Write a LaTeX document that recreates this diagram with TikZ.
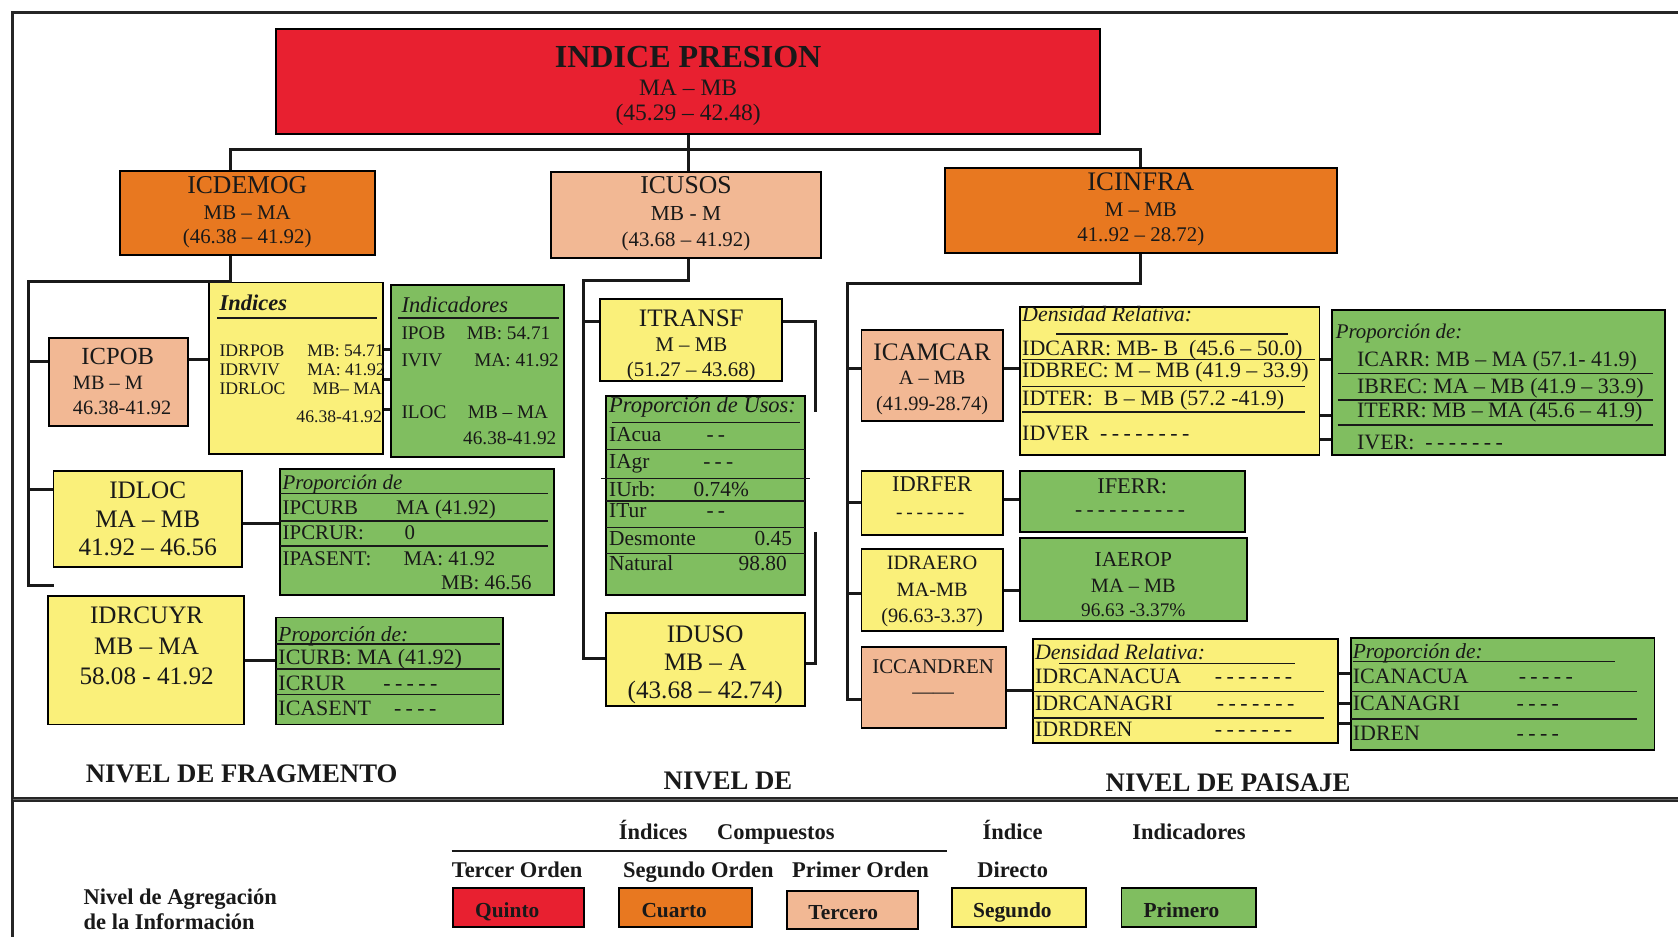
\documentclass[tikz,border=0pt]{standalone}
\usepackage{fontspec}
\setmainfont{Liberation Serif}
\usetikzlibrary{fit}

\definecolor{cRed}{RGB}{232,32,48}
\definecolor{cOrange}{RGB}{232,120,32}
\definecolor{cSalmon}{RGB}{242,184,148}
\definecolor{cYellow}{RGB}{250,240,122}
\definecolor{cGreen}{RGB}{128,190,96}

\newcommand\tam[1]{\fontsize{#1pt}{#1pt}\selectfont}
\newcount\gcnt
% a run of separate hyphens, used for "no data" entries
\newcommand\guiones[1]{\gcnt=#1\relax\loop\ifnum\gcnt>0 -\kern0.2em\advance\gcnt by -1\relax\repeat}

\tikzset{
  caja/.style={draw=black, line width=1.8pt, inner sep=0pt},
  conn/.style={draw=black!90, line width=2.8pt},
  sep/.style={draw=black!90, line width=1.4pt},
  tx/.style={anchor=base, inner sep=0pt, text=black!90},
  tw/.style={anchor=base west, inner sep=0pt, text=black!90},
  te/.style={anchor=base east, inner sep=0pt, text=black!90},
  marco/.style={draw=black!85, line width=3pt},
}

\begin{document}
\begin{tikzpicture}[x=1pt,y=-1pt]
\useasboundingbox (0,0) rectangle (1568,876);
\fill[white] (0,0) rectangle (1568,876);

% ---------- frame ----------
\draw[marco] (1568,12) -- (12,12) -- (12,876);
\draw[line width=5pt, black!85] (12,747) -- (1568,747);
\draw[line width=0.8pt, black!60] (12,747) -- (1568,747);

% ---------- fifth level ----------
\node[caja, fill=cRed, fit={(258,27) (1028,125)}] (presion) {};
\node[tx, font=\tam{30}\bfseries] (presion-a) at (643,63) {INDICE PRESION};
\node[tx, font=\tam{22}] (presion-b) at (643,89) {MA – MB};
\node[tx, font=\tam{22}] (presion-c) at (643,113) {(45.29 – 42.48)};

% ---------- fourth / third level ----------
\node[caja, fill=cOrange, fit={(112,160) (350,238)}] (icdemog) {};
\node[tx, font=\tam{24}] (icdemog-a) at (231,181) {ICDEMOG};
\node[tx, font=\tam{19.5}] (icdemog-b) at (231,205.5) {MB – MA};
\node[tx, font=\tam{19.5}] (icdemog-c) at (231,227.5) {(46.38 – 41.92)};

\node[caja, fill=cSalmon, fit={(515,161) (767,241)}] (icusos) {};
\node[tx, font=\tam{24}] (icusos-a) at (641,181) {ICUSOS};
\node[tx, font=\tam{20}] (icusos-b) at (641,206.5) {MB - M};
\node[tx, font=\tam{19.5}] (icusos-c) at (641,230.5) {(43.68 – 41.92)};

\node[caja, fill=cOrange, fit={(883,157) (1249,236)}] (icinfra) {};
\node[tx, font=\tam{25}] (icinfra-a) at (1066,178) {ICINFRA};
\node[tx, font=\tam{19.5}] (icinfra-b) at (1066,202.5) {M – MB};
\node[tx, font=\tam{19.5}] (icinfra-c) at (1066,225.5) {41..92 – 28.72)};

% ---------- fragment level ----------
\node[caja, fill=cSalmon, fit={(46,316) (176,398)}] (icpob) {};
\node[tx, font=\tam{23}] (icpob-a) at (110,340.5) {ICPOB};
\node[tw, font=\tam{19}] (icpob-b) at (68,364) {MB – M};
\node[tw, font=\tam{19}] (icpob-c) at (68,387) {46.38-41.92};

\node[caja, fill=cYellow, fit={(195,264) (358,424)}] (indices) {};
\node[tw, font=\tam{21}\bfseries\itshape] (indices-h) at (205,290) {Indices};
\draw[sep] (203,297) -- (352,297);
\node[tw, font=\tam{16.5}] (indices-1a) at (205,333) {IDRPOB};
\node[tw, font=\tam{16.5}] (indices-1b) at (287,333) {MB: 54.71};
\node[tw, font=\tam{16.5}] (indices-2a) at (205,351) {IDRVIV};
\node[tw, font=\tam{16.5}] (indices-2b) at (287,351) {MA: 41.92};
\node[tw, font=\tam{16.5}] (indices-3a) at (205,369) {IDRLOC};
\node[tw, font=\tam{16.5}] (indices-3b) at (292,369) {MB– MA};
\node[te, font=\tam{16.5}] (indices-3c) at (357,395) {46.38-41.92};

\node[caja, fill=cGreen, fit={(365,266) (527,427)}] (indicadores) {};
\node[tw, font=\tam{21}\itshape] (indicadores-h) at (375,292) {Indicadores};
\draw[sep] (372,297) -- (522,297);
\node[tw, font=\tam{18}] (indicadores-1a) at (375,317) {IPOB};
\node[tw, font=\tam{18}] (indicadores-1b) at (436,317) {MB: 54.71};
\node[tw, font=\tam{18}] (indicadores-2a) at (375,342) {IVIV};
\node[tw, font=\tam{18}] (indicadores-2b) at (443,342) {MA: 41.92};
\node[tw, font=\tam{18}] (indicadores-3a) at (375,391) {ILOC};
\node[tw, font=\tam{18}] (indicadores-3b) at (437,391) {MB – MA};
\node[te, font=\tam{18}] (indicadores-3c) at (520,415) {46.38-41.92};

\node[caja, fill=cYellow, fit={(50,440) (226,530)}] (idloc) {};
\node[tx, font=\tam{23.5}] (idloc-a) at (138,466) {IDLOC};
\node[tx, font=\tam{23.5}] (idloc-b) at (138,493) {MA – MB};
\node[tx, font=\tam{23.5}] (idloc-c) at (138,519) {41.92 – 46.56};

\node[caja, fill=cGreen, fit={(262,438) (518,556)}] (propA) {};
\node[tw, font=\tam{19.5}\itshape] (propA-h) at (264,457) {Proporción de};
\draw[sep] (262,461) -- (512,461);
\draw[sep] (262,487) -- (512,487);
\draw[sep] (262,510) -- (512,510);
\node[tw, font=\tam{19.5}] (propA-1a) at (264,481) {IPCURB};
\node[tw, font=\tam{19.5}] (propA-1b) at (370,481) {MA (41.92)};
\node[tw, font=\tam{19.5}] (propA-2a) at (264,504) {IPCRUR:};
\node[tw, font=\tam{19.5}] (propA-2b) at (378,504) {0};
\node[tw, font=\tam{19.5}] (propA-3a) at (264,528) {IPASENT:};
\node[tw, font=\tam{19.5}] (propA-3b) at (377,528) {MA: 41.92};
\node[tw, font=\tam{19.5}] (propA-3c) at (412,551) {MB: 46.56};

\node[caja, fill=cYellow, fit={(45,557) (228,677)}] (idrcuyr) {};
\node[tx, font=\tam{23.5}] (idrcuyr-a) at (137,583) {IDRCUYR};
\node[tx, font=\tam{23.5}] (idrcuyr-b) at (137,612) {MB – MA};
\node[tx, font=\tam{23.5}] (idrcuyr-c) at (137,640) {58.08 - 41.92};

\node[caja, fill=cGreen, fit={(258,577) (470,677)}] (propB) {};
\node[tw, font=\tam{20}\itshape] (propB-h) at (260,599) {Proporción de:};
\draw[sep] (258,602) -- (467,602);
\draw[sep] (258,625) -- (467,625);
\draw[sep] (258,649) -- (467,649);
\node[tw, font=\tam{20.5}] (propB-1) at (260,621) {ICURB: MA (41.92)};
\node[tw, font=\tam{20.5}] (propB-2a) at (260,645) {ICRUR};
\node[tw, font=\tam{20.5}] (propB-2b) at (358,645) {\guiones{5}};
\node[tw, font=\tam{20.5}] (propB-3a) at (260,669) {ICASENT};
\node[tw, font=\tam{20.5}] (propB-3b) at (368,669) {\guiones{4}};

% ---------- middle column ----------
\node[caja, fill=cYellow, fit={(561,279) (731,356)}] (itransf) {};
\node[tx, font=\tam{23.5}] (itransf-a) at (646,305) {ITRANSF};
\node[tx, font=\tam{19.5}] (itransf-b) at (646,328.5) {M – MB};
\node[tx, font=\tam{19.5}] (itransf-c) at (646,351.5) {(51.27 – 43.68)};

\node[caja, fill=cGreen, fit={(566,370) (752,556)}] (usos) {};
\node[tw, font=\tam{21}\itshape] (usos-h) at (569,385) {Proporción de Usos:};
\draw[sep] (572,395) -- (748,395);
\draw[sep] (566,420) -- (752,420);
\draw[sep] (562,447) -- (757,447);
\draw[sep] (566,468) -- (752,468);
\draw[sep] (566,493) -- (752,493);
\draw[sep] (566,517) -- (752,517);
\node[tw, font=\tam{20}] (usos-1a) at (569,413) {IAcua};
\node[tw, font=\tam{20}] (usos-1b) at (660,413) {\guiones{2}};
\node[tw, font=\tam{20}] (usos-2a) at (569,438) {IAgr};
\node[tw, font=\tam{20}] (usos-2b) at (657,438) {\guiones{3}};
\node[tw, font=\tam{20}] (usos-3a) at (569,464) {IUrb:};
\node[tw, font=\tam{20}] (usos-3b) at (648,464) {0.74\%};
\node[tw, font=\tam{20}] (usos-4a) at (569,484) {ITur};
\node[tw, font=\tam{20}] (usos-4b) at (660,484) {\guiones{2}};
\node[tw, font=\tam{20}] (usos-5a) at (569,510) {Desmonte};
\node[tw, font=\tam{20}] (usos-5b) at (705,510) {0.45};
\node[tw, font=\tam{20}] (usos-6a) at (569,533) {Natural};
\node[tw, font=\tam{20}] (usos-6b) at (690,533) {98.80};

\node[caja, fill=cYellow, fit={(566,573) (752,660)}] (iduso) {};
\node[tx, font=\tam{23.5}] (iduso-a) at (659,600) {IDUSO};
\node[tx, font=\tam{23.5}] (iduso-b) at (659,627) {MB – A};
\node[tx, font=\tam{23.5}] (iduso-c) at (659,653) {(43.68 – 42.74)};

% ---------- landscape level ----------
\node[caja, fill=cSalmon, fit={(805,308) (937,393)}] (icamcar) {};
\node[tx, font=\tam{23.5}] (icamcar-a) at (871,337) {ICAMCAR};
\node[tx, font=\tam{19}] (icamcar-b) at (871,359) {A – MB};
\node[tx, font=\tam{19}] (icamcar-c) at (871,384) {(41.99-28.74)};

\node[caja, fill=cYellow, fit={(953,287) (1233,425)}] (densA) {};
\node[tw, font=\tam{20.5}\itshape] (densA-h) at (955,300) {Densidad Relativa:};
\draw[sep] (987,312) -- (1204,312);
\draw[sep] (955,336) -- (1229,336);
\draw[sep] (955,361) -- (1219,361);
\draw[sep] (955,385) -- (1219,385);
\node[tw, font=\tam{20.5}] (densA-1) at (955,332) {IDCARR: MB- B~~(45.6 – 50.0)};
\node[tw, font=\tam{20.5}] (densA-2) at (955,353) {IDBREC: M – MB (41.9 – 33.9)};
\node[tw, font=\tam{20.5}] (densA-3) at (955,379) {IDTER:~~B – MB (57.2 -41.9)};
\node[tw, font=\tam{20.5}] (densA-4) at (955,412) {IDVER~~\guiones{8}};

\node[caja, fill=cGreen, fit={(1245,290) (1556,425)}] (propC) {};
\node[tw, font=\tam{19.5}\itshape] (propC-h) at (1248,316) {Proporción de:};
\draw[sep] (1250,349) -- (1545,349);
\draw[sep] (1250,374) -- (1545,374);
\draw[sep] (1250,397) -- (1545,397);
\node[tw, font=\tam{20.5}] (propC-1) at (1268,342) {ICARR: MB – MA (57.1- 41.9)};
\node[tw, font=\tam{20.5}] (propC-2) at (1268,368) {IBREC: MA – MB (41.9 – 33.9)};
\node[tw, font=\tam{20.5}] (propC-3) at (1268,390) {ITERR: MB – MA (45.6 – 41.9)};
\node[tw, font=\tam{20.5}] (propC-4) at (1268,420) {IVER:~~\guiones{7}};

\node[caja, fill=cYellow, fit={(805,440) (937,500)}] (idrfer) {};
\node[tx, font=\tam{21}] (idrfer-a) at (871,459) {IDRFER};
\node[tx, font=\tam{18}] (idrfer-b) at (871,484.5) {\guiones{7}};

\node[caja, fill=cGreen, fit={(953,440) (1163,497)}] (iferr) {};
\node[tx, font=\tam{21}] (iferr-a) at (1058,461) {IFERR:};
\node[tx, font=\tam{20}] (iferr-b) at (1058,483) {\guiones{10}};

\node[caja, fill=cYellow, fit={(805,513) (937,590)}] (idraero) {};
\node[tx, font=\tam{19}] (idraero-a) at (871,532) {IDRAERO};
\node[tx, font=\tam{19}] (idraero-b) at (871,557) {MA-MB};
\node[tx, font=\tam{19}] (idraero-c) at (871,582) {(96.63-3.37)};

\node[caja, fill=cGreen, fit={(953,503) (1165,580)}] (iaerop) {};
\node[tx, font=\tam{20}] (iaerop-a) at (1059,529) {IAEROP};
\node[tx, font=\tam{19}] (iaerop-b) at (1059,554) {MA – MB};
\node[tx, font=\tam{18}] (iaerop-c) at (1059,576) {96.63 -3.37\%};

\node[caja, fill=cSalmon, fit={(805,605) (940,680)}] (iccandren) {};
\node[tx, font=\tam{19.5}] (iccandren-a) at (872,629.5) {ICCANDREN};
\node[tx, font=\tam{19.5}] (iccandren-b) at (872,653) {——};

\node[caja, fill=cYellow, fit={(965,597) (1250,694)}] (densB) {};
\node[tw, font=\tam{20.5}\itshape] (densB-h) at (967,616) {Densidad Relativa:};
\draw[sep] (990,620) -- (1210,620);
\draw[sep] (965,646) -- (1237,646);
\draw[sep] (965,671) -- (1237,671);
\node[tw, font=\tam{20.5}] (densB-1a) at (967,639) {IDRCANACUA};
\node[tw, font=\tam{20.5}] (densB-1b) at (1135,639) {\guiones{7}};
\node[tw, font=\tam{20.5}] (densB-2a) at (967,664) {IDRCANAGRI};
\node[tw, font=\tam{20.5}] (densB-2b) at (1137,664) {\guiones{7}};
\node[tw, font=\tam{20.5}] (densB-3a) at (967,688) {IDRDREN};
\node[tw, font=\tam{20.5}] (densB-3b) at (1135,688) {\guiones{7}};

\node[caja, fill=cGreen, fit={(1262,596) (1546,701)}] (propD) {};
\node[tw, font=\tam{20}\itshape] (propD-h) at (1264,615) {Proporción de:};
\draw[sep] (1264,618) -- (1509,618);
\draw[sep] (1262,646) -- (1530,646);
\draw[sep] (1262,672) -- (1530,672);
\node[tw, font=\tam{20.5}] (propD-1a) at (1264,639) {ICANACUA};
\node[tw, font=\tam{20.5}] (propD-1b) at (1419,639) {\guiones{5}};
\node[tw, font=\tam{20.5}] (propD-2a) at (1264,664) {ICANAGRI};
\node[tw, font=\tam{20.5}] (propD-2b) at (1417,664) {\guiones{4}};
\node[tw, font=\tam{20.5}] (propD-3a) at (1264,692) {IDREN};
\node[tw, font=\tam{20.5}] (propD-3b) at (1417,692) {\guiones{4}};

% ---------- level captions ----------
\node[tw, font=\tam{25}\bfseries] (nivel-frag) at (80,731) {NIVEL DE FRAGMENTO};
\node[tw, font=\tam{25}\bfseries] (nivel-mid) at (620,738) {NIVEL DE};
\node[tw, font=\tam{25}\bfseries] (nivel-pais) at (1033,740) {NIVEL DE PAISAJE};

% ---------- connectors ----------
\coordinate (bus) at (643,140);
\coordinate (cdem) at (215,140);
\draw[conn] (presion.south -| bus) -- (bus) -- (icusos.north -| bus);
\draw[conn] (icdemog.north -| cdem) |- (bus) -| (icinfra.north);

% fragment branch
\coordinate (tL) at (27,264);
\coordinate (fL) at (50,547);
\draw[conn] (icdemog.south -| cdem) -- (indices.north -| cdem) -- (indices.north -| tL) -- (tL |- fL) -- (fL);
\coordinate (kPob) at ([yshift=19pt]icpob.west);
\draw[conn] (kPob -| tL) -- (kPob);
\coordinate (kLoc) at ([yshift=28pt]idloc.west);
\draw[conn] (kLoc -| tL) -- (kLoc);
\coordinate (kPI) at ([yshift=21pt]icpob.east);
\draw[conn] (kPI) -- (kPI -| indices.west);
\foreach \yy in {327,355,383}
  \draw[conn] (indices.east |- 0,\yy) -- (indicadores.west |- 0,\yy);
\coordinate (kLP) at ([yshift=-4pt]idloc.east);
\draw[conn] (kLP) -- (kLP -| propA.west);
\draw[conn] (idrcuyr.east) -- (idrcuyr.east -| propB.west);

% middle branch
\coordinate (tM) at (545,262);
\coordinate (fM) at (545,615);
\draw[conn] (icusos.south -| bus) |- (tM) -- (fM) -- (fM -| iduso.west);
\coordinate (kTr) at ([yshift=17.5pt]itransf.west);
\draw[conn] (kTr -| tM) -- (kTr);
\coordinate (kTrE) at ([yshift=17.5pt]itransf.east);
\coordinate (bA) at (762,385);
\draw[conn] (kTrE) -| (bA);
\coordinate (bB) at (762,497);
\draw[conn] (bB) |- ([yshift=-3.5pt]iduso.east);

% landscape branch
\coordinate (tR) at (792,265);
\coordinate (fR) at (792,654);
\draw[conn] (icinfra.south) |- (tR) -- (fR) -- (fR -| iccandren.west);
\coordinate (kCam) at ([yshift=6.5pt]icamcar.west);
\draw[conn] (kCam -| tR) -- (kCam);
\draw[conn] (idrfer.west -| tR) -- (idrfer.west);
\coordinate (kAer) at ([yshift=-3.5pt]idraero.west);
\draw[conn] (kAer -| tR) -- (kAer);
\coordinate (kCamE) at ([yshift=6.5pt]icamcar.east);
\draw[conn] (kCamE) -- (kCamE -| densA.west);
\coordinate (kFer) at ([yshift=3pt]idrfer.east);
\draw[conn] (kFer) -- (kFer -| iferr.west);
\draw[conn] (idraero.east) -- (idraero.east -| iaerop.west);
\coordinate (kCan) at ([yshift=-2.5pt]iccandren.east);
\draw[conn] (kCan) -- (kCan -| densB.west);
\foreach \yy in {336,388,411}
  \draw[conn] (densA.east |- 0,\yy) -- (propC.west |- 0,\yy);
\foreach \yy in {629,657,676}
  \draw[conn] (densB.east |- 0,\yy) -- (propD.west |- 0,\yy);

% ---------- legend ----------
\node[tw, font=\tam{21}\bfseries] (ley-ic1) at (578,784) {Índices};
\node[tw, font=\tam{21}\bfseries] (ley-ic2) at (670,784) {Compuestos};
\node[tw, font=\tam{21}\bfseries] (ley-id1) at (918,784) {Índice};
\node[tw, font=\tam{21}\bfseries] (ley-ind) at (1058,784) {Indicadores};
\draw[line width=2pt, black!90] (422,795) -- (885,795);
\node[tw, font=\tam{21}\bfseries] (ley-o3) at (422,820) {Tercer Orden};
\node[tw, font=\tam{21}\bfseries] (ley-o2) at (582,820) {Segundo Orden};
\node[tw, font=\tam{21}\bfseries] (ley-o1) at (740,820) {Primer Orden};
\node[tw, font=\tam{21}\bfseries] (ley-id2) at (913,820) {Directo};
\node[tw, font=\tam{21}\bfseries] (ley-niv1) at (78,845) {Nivel de Agregación};
\node[tw, font=\tam{21}\bfseries] (ley-niv2) at (78,869) {de la Información};

\node[caja, fill=cRed, fit={(423,830) (546,866)}] (ley-quinto) {};
\node[tx, font=\tam{20}\bfseries] (ley-quinto-t) at (474,857) {Quinto};
\node[caja, fill=cOrange, fit={(578,830) (703,866)}] (ley-cuarto) {};
\node[tx, font=\tam{20}\bfseries] (ley-cuarto-t) at (630,857) {Cuarto};
\node[caja, fill=cSalmon, fit={(735,833) (858,868)}] (ley-tercero) {};
\node[tx, font=\tam{20}\bfseries] (ley-tercero-t) at (788,859) {Tercero};
\node[caja, fill=cYellow, fit={(890,830) (1015,866)}] (ley-segundo) {};
\node[tx, font=\tam{20}\bfseries] (ley-segundo-t) at (946,857) {Segundo};
\node[caja, fill=cGreen, fit={(1048,830) (1174,866)}] (ley-primero) {};
\node[tx, font=\tam{20}\bfseries] (ley-primero-t) at (1104,857) {Primero};
\end{tikzpicture}
\end{document}
